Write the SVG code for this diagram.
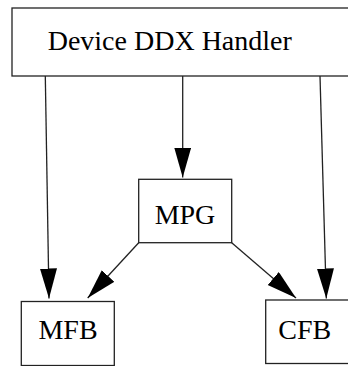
<svg xmlns="http://www.w3.org/2000/svg" width="348" height="366" viewBox="0 0 348 366">
<style>
.box{fill:#fff;stroke:#222;stroke-width:1.3}
.lbl{font-family:"Liberation Serif","Times New Roman",serif;font-size:28px;fill:#000}
.edge{stroke:#222;stroke-width:1.3;fill:none}
</style>
<defs>
<marker id="arr" markerUnits="userSpaceOnUse" markerWidth="31" markerHeight="18" refX="30" refY="8.5" orient="auto" viewBox="0 0 31 18">
<path d="M0,0 L30,8.5 L0,17 Z" fill="#000"/>
</marker>
</defs>
<rect width="348" height="366" fill="#fff"/>
<g id="connectors">
<line class="edge" x1="45.3" y1="76" x2="49" y2="298.5" marker-end="url(#arr)"/>
<line class="edge" x1="182.7" y1="76" x2="182.7" y2="177.5" marker-end="url(#arr)"/>
<line class="edge" x1="320" y1="76" x2="326.3" y2="298.5" marker-end="url(#arr)"/>
<line class="edge" x1="138.7" y1="242.7" x2="87.7" y2="298" marker-end="url(#arr)"/>
<line class="edge" x1="231.7" y1="242.7" x2="296" y2="298" marker-end="url(#arr)"/>
</g>
<g id="node-handler">
<rect class="box" x="12" y="8" width="345" height="68"/>
<text class="lbl" x="47.7" y="50">Device DDX Handler</text>
</g>
<g id="node-mpg">
<rect class="box" x="138.7" y="179.3" width="93" height="63.4"/>
<text class="lbl" x="185" y="224.3" text-anchor="middle">MPG</text>
</g>
<g id="node-mfb">
<rect class="box" x="21.3" y="301.5" width="93" height="64"/>
<text class="lbl" x="68" y="338.7" text-anchor="middle">MFB</text>
</g>
<g id="node-cfb">
<rect class="box" x="265.7" y="300" width="92" height="63.5"/>
<text class="lbl" x="278.3" y="338.7">CFB</text>
</g>
</svg>
